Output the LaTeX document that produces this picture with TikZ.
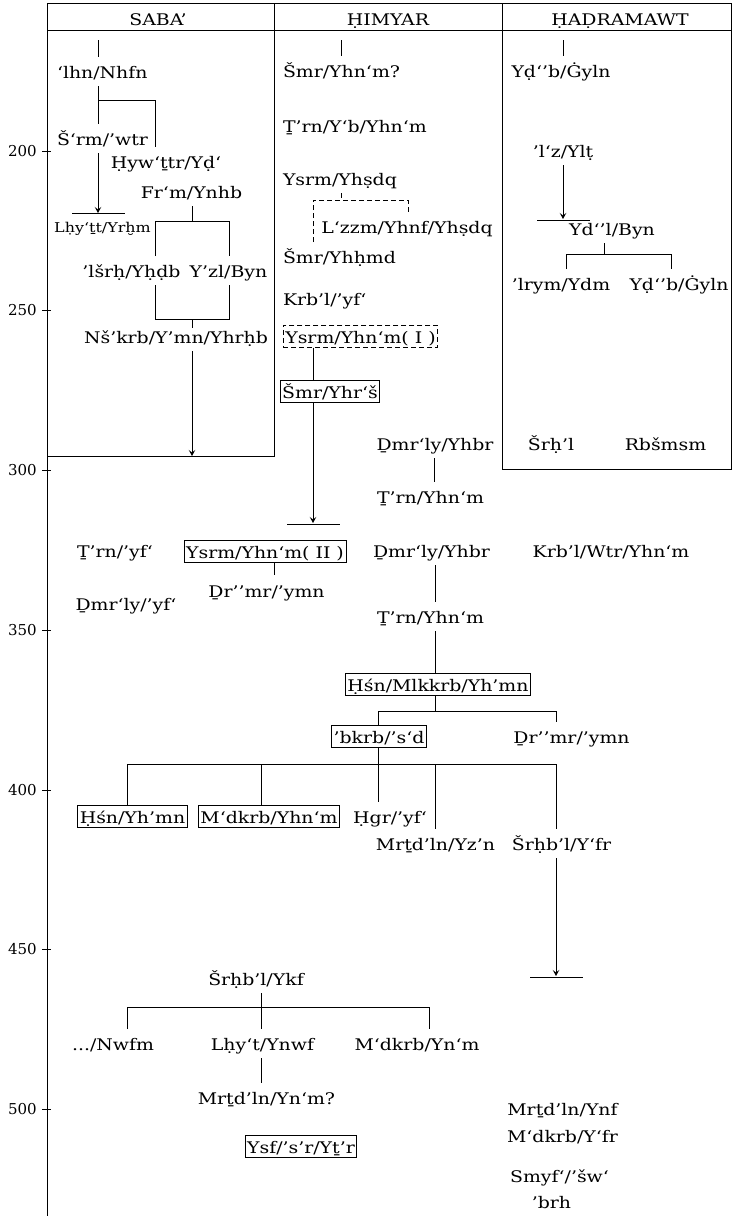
\documentclass[tikz,border=0pt]{standalone}
\usepackage{fontspec}
\setmainfont{DejaVu Serif}
\newfontfamily\namefont[FakeStretch=1.18]{DejaVu Serif}
\usetikzlibrary{arrows.meta}
\newcommand{\nf}{\namefont\fontsize{16}{19}\selectfont}
\newcommand{\smallnf}{\namefont\fontsize{13.5}{16}\selectfont}
\newcommand{\axf}{\fontsize{15}{18}\selectfont}
\begin{document}
\begin{tikzpicture}[x=1pt,y=-1pt,
  txt/.style={font=\nf, inner sep=0pt, outer xsep=0pt, outer ysep=5pt, text height=16pt, text depth=3pt, anchor=base},
  ltxt/.style={txt, anchor=base west},
  bx/.style={draw, line width=0.7pt, font=\nf, inner xsep=2pt, inner ysep=3pt, outer sep=0pt, text height=15pt, text depth=1.5pt, anchor=base},
  dbx/.style={bx, dash pattern=on 5pt off 3pt},
  ln/.style={line width=0.8pt},
  dln/.style={line width=0.8pt, dash pattern=on 5pt off 3pt},
  arr/.style={ln, -{Stealth[length=6pt,width=6.5pt,inset=2.5pt]}},
  ax/.style={font=\axf, inner sep=0pt, anchor=base east}]
\useasboundingbox (0,0) rectangle (733,1216);
% frame
\draw[ln] (47,3) -- (731,3);
\draw[ln] (47,30) -- (731,30);
\draw[ln] (47,3) -- (47,1216);
\draw[ln] (274,3) -- (274,456) -- (47,456);
\draw[ln] (502,3) -- (502,469) -- (731,469) -- (731,3);
% axis
\foreach \v/\y in {200/151,250/310,300/470,350/630,400/790,450/949,500/1109}{
  \draw[ln] (42,\y) -- (51,\y);
  \node[ax] (ax\v) at (37,\y+5) {\v};
}
% headers
\node[txt] (hsaba) at (158,25) {SABA’};
\node[txt] (hhim) at (388,25) {ḤIMYAR};
\node[txt] (hhad) at (620,25) {ḤAḌRAMAWT};
% SABA'
\node[ltxt] (lhn) at (57,78) {‘lhn/Nhfn};
\node[ltxt] (srm) at (57,145) {Š‘rm/’wtr};
\node[txt] (hyw) at (166,168) {Ḥyw‘ṯtr/Yḍ‘};
\node[txt] (frm) at (191.5,198) {Fr‘m/Ynhb};
\node[txt, font=\smallnf] (lhy) at (102.5,232) {Lḥy‘ṯt/Yrḫm};
\node[txt] (lsr) at (131.5,277) {’lšrḥ/Yḥḍb};
\node[txt] (yzl) at (228.5,277) {Y’zl/Byn};
\node[txt] (nsk) at (176,343) {Nš’krb/Y’mn/Yhrḥb};
% HIMYAR
\node[ltxt] (smr1) at (283,77) {Šmr/Yhn‘m?};
\node[ltxt] (trn1) at (283,132) {Ṯ’rn/Y‘b/Yhn‘m};
\node[ltxt] (ysrm1) at (283,185) {Ysrm/Yhṣdq};
\node[txt] (lzzm) at (407,233) {L‘zzm/Yhnf/Yhṣdq};
\node[ltxt] (smr2) at (283,263) {Šmr/Yhḥmd};
\node[ltxt] (krb1) at (283,305) {Krb’l/’yf‘};
\node[dbx] (ysrmI) at (360.5,343) {Ysrm/Yhn‘m(\ I\ )};
\node[bx] (smr3) at (330,398) {Šmr/Yhr‘š};
\node[txt] (dmr1) at (435,450) {Ḏmr‘ly/Yhbr};
\node[txt] (trn2) at (430.5,503) {Ṯ’rn/Yhn‘m};
\node[txt] (dmr2) at (431.5,557) {Ḏmr‘ly/Yhbr};
\node[txt] (krb2) at (611,557) {Krb’l/Wtr/Yhn‘m};
\node[txt] (trn3) at (430.5,623) {Ṯ’rn/Yhn‘m};
\node[bx] (hsn1) at (438,691) {Ḥśn/Mlkkrb/Yh’mn};
\node[bx] (bkrb) at (379,743) {’bkrb/’s‘d};
\node[txt] (dr1) at (571.5,743) {Ḏr’’mr/’ymn};
\node[bx] (hsn2) at (132.5,823) {Ḥśn/Yh’mn};
\node[bx] (mdk1) at (269,823) {M‘dkrb/Yhn‘m};
\node[txt] (hgr) at (390,823) {Ḥgr/’yf‘};
\node[txt] (mrt1) at (435.5,850) {Mrṯd’ln/Yz’n};
\node[txt] (srh1) at (561.5,850) {Šrḥb’l/Y‘fr};
\node[txt] (srh2) at (256,985) {Šrḥb’l/Ykf};
\node[txt] (nwfm) at (113,1050) {.../Nwfm};
\node[txt] (lhy2) at (262.5,1050) {Lḥy‘t/Ynwf};
\node[txt] (mdk2) at (417,1050) {M‘dkrb/Yn‘m};
\node[txt] (mrt2) at (266.5,1104) {Mrṯd’ln/Yn‘m?};
\node[bx] (ysf) at (301,1153) {Ysf/’s’r/Yṯ’r};
\node[txt] (mrt3) at (562.5,1115) {Mrṯd’ln/Ynf};
\node[txt] (mdk3) at (562.5,1142) {M‘dkrb/Y‘fr};
\node[txt] (smyf) at (559.5,1182) {Smyf‘/’šw‘};
\node[txt] (brh) at (551.5,1208) {’brh};
% left
\node[txt] (trn4) at (115,557) {Ṯ’rn/’yf‘};
\node[bx] (ysrmII) at (265,558) {Ysrm/Yhn‘m(\ II\ )};
\node[txt] (dr2) at (266.5,597) {Ḏr’’mr/’ymn};
\node[txt] (dmr3) at (126,610) {Ḏmr‘ly/’yf‘};
% HADRAMAWT
\node[txt] (ydb1) at (561,77) {Yḍ‘’b/Ġyln};
\node[txt] (lz) at (563,157) {’l‘z/Ylṭ};
\node[txt] (ydl) at (612,235) {Yd‘’l/Byn};
\node[txt] (lrym) at (561,290) {’lrym/Ydm};
\node[txt] (ydb2) at (679,290) {Yḍ‘’b/Ġyln};
\node[txt] (srhl) at (551,450) {Šrḥ’l};
\node[txt] (rbs) at (665.5,450) {Rbšmsm};
% ---- connectors SABA'
\draw[ln] (98,40) -- (lhn.north -| 98,0);
\draw[ln] (lhn.south -| 98,0) -- (srm.north -| 98,0);
\draw[ln] (98,100) -- (155,100) -- (hyw.north -| 155,0);
\draw[arr] (srm.south -| 98,0) -- (98,213);
\draw[ln] (72,213) -- (125,213);
\draw[ln] (frm.south -| 192,0) -- (192,221);
\draw[ln] (lsr.north -| 155,0) -- (155,221) -- (229,221) -- (yzl.north -| 229,0);
\draw[ln] (lsr.south -| 155,0) -- (155,319) -- (229,319) -- (yzl.south -| 229,0);
\draw[ln] (192,319) -- (192,328);
\draw[arr] (nsk.south -| 192,0) -- (192,456);
% ---- HIMYAR
\draw[ln] (341,40) -- (smr1.north -| 341,0);
\draw[dln] (ysrm1.south -| 341,0) -- (341,200);
\draw[dln] (smr2.north -| 313,0) -- (313,200) -- (408,200) -- (lzzm.north -| 408,0);
\draw[ln] (ysrmI.south -| 313,0) -- (smr3.north -| 313,0);
\draw[arr] (smr3.south -| 313,0) -- (313,523);
\draw[ln] (287,524) -- (340,524);
\draw[ln] (dmr1.south -| 434,0) -- (trn2.north -| 434,0);
\draw[ln] (dmr2.south -| 435,0) -- (trn3.north -| 435,0);
\draw[ln] (trn3.south -| 435,0) -- (hsn1.north -| 435,0);
\draw[ln] (hsn1.south -| 435,0) -- (435,711);
\draw[ln] (bkrb.north -| 378,0) -- (378,711) -- (556,711) -- (dr1.north -| 556,0);
\draw[ln] (bkrb.south -| 378,0) -- (hgr.north -| 378,0);
\draw[ln] (hsn2.north -| 127,0) -- (127,764) -- (556,764) -- (srh1.north -| 556,0);
\draw[ln] (261,764) -- (mdk1.north -| 261,0);
\draw[ln] (435,764) -- (mrt1.north -| 435,0);
\draw[arr] (srh1.south -| 556,0) -- (556,976);
\draw[ln] (530,977) -- (583,977);
\draw[ln] (ysrmII.south -| 274,0) -- (274,575);
\draw[ln] (srh2.south -| 261,0) -- (lhy2.north -| 261,0);
\draw[ln] (nwfm.north -| 127,0) -- (127,1007) -- (429,1007) -- (mdk2.north -| 429,0);
\draw[ln] (lhy2.south -| 261,0) -- (mrt2.north -| 261,0);
% ---- HADRAMAWT
\draw[ln] (563,40) -- (ydb1.north -| 563,0);
\draw[arr] (lz.south -| 563,0) -- (563,219);
\draw[ln] (537,220) -- (590,220);
\draw[ln] (ydl.south -| 604,0) -- (604,254);
\draw[ln] (lrym.north -| 566,0) -- (566,254) -- (671,254) -- (ydb2.north -| 671,0);
\end{tikzpicture}
\end{document}
